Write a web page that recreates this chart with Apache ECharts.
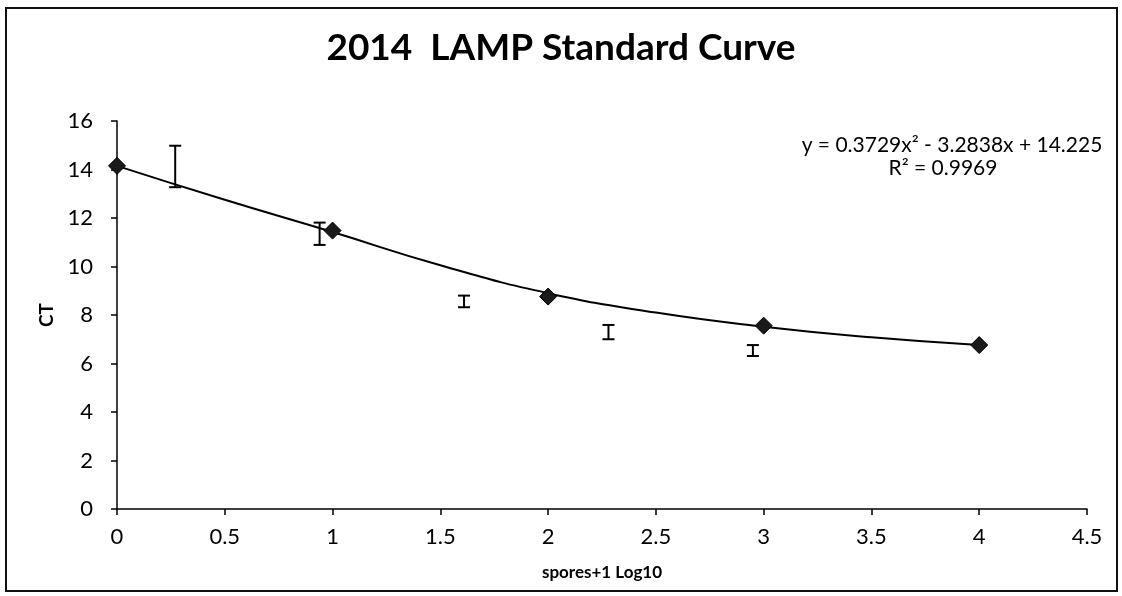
<!DOCTYPE html>
<html>
<head>
<meta charset="utf-8">
<script src="https://cdn.jsdelivr.net/npm/echarts@6/dist/echarts.min.js"></script>
<style>
html,body{margin:0;padding:0;background:#fff;}
#chart{width:1122px;height:596px;}
</style>
</head>
<body>
<div id="chart"></div>
<script>
// Data
const pointX = [0, 1, 2, 3, 4];
const pointCT = [14.15, 11.48, 8.76, 7.56, 6.76];
const errX = [0.27, 0.94, 1.61, 2.28, 2.95];
const errLow = [13.27, 10.89, 8.32, 7.00, 6.31];
const errHigh = [14.98, 11.81, 8.80, 7.59, 6.76];
const trendX = [0, 0.5, 1, 1.5, 2, 2.5, 3, 3.5, 4];
const trendCT = [14.15, 12.75, 11.42, 10.05, 8.9, 8.1, 7.52, 7.08, 6.76];
const xTicks = [0, 0.5, 1, 1.5, 2, 2.5, 3, 3.5, 4, 4.5];
const yTicks = [0, 2, 4, 6, 8, 10, 12, 14, 16];
const equationText = 'y = 0.3729x² - 3.2838x + 14.225';
const r2Text = 'R² = 0.9969';

const points = pointX.map((x, i) => [x, pointCT[i]]);
const trend = trendX.map((x, i) => [x, trendCT[i]]);
const errData = errX.map((x, i) => [x, errLow[i], errHigh[i]]);

const chart = echarts.init(document.getElementById('chart'));
const font = 'Lato, "Open Sans", sans-serif';

chart.setOption({
  animation: false,
  backgroundColor: '#fff',
  title: {
    text: '2014  LAMP Standard Curve',
    left: 'center',
    top: 25,
    textStyle: { fontFamily: font, fontWeight: 'bold', fontSize: 37, color: '#000' }
  },
  graphic: [
    { type: 'rect', shape: { x: 6, y: 8, width: 1111, height: 583 }, style: { fill: 'none', stroke: '#111', lineWidth: 2 }, silent: true },
    { type: 'text', x: 952, y: 145, style: { text: equationText, fontFamily: font, fontSize: 21, fill: '#000', align: 'center', verticalAlign: 'middle' } },
    { type: 'text', x: 943, y: 168, style: { text: r2Text, fontFamily: font, fontSize: 21, fill: '#000', align: 'center', verticalAlign: 'middle' } }
  ],
  grid: { left: 117, right: 35, top: 121, bottom: 87 },
  xAxis: {
    type: 'value',
    min: xTicks[0], max: xTicks[xTicks.length - 1], interval: 0.5,
    name: 'spores+1 Log10',
    nameLocation: 'middle',
    nameGap: 55,
    nameTextStyle: { fontFamily: font, fontWeight: 'bold', fontSize: 17, color: '#000' },
    axisLine: { lineStyle: { color: '#000', width: 1.5 } },
    axisTick: { show: true, inside: false, length: 6, lineStyle: { color: '#000', width: 1.5 } },
    axisLabel: { fontFamily: font, fontSize: 22, color: '#000', margin: 17 },
    splitLine: { show: false }
  },
  yAxis: {
    type: 'value',
    min: yTicks[0], max: yTicks[yTicks.length - 1], interval: 2,
    name: 'CT',
    nameLocation: 'middle',
    nameGap: 50,
    nameRotate: 90,
    nameTextStyle: { fontFamily: font, fontWeight: 'bold', fontSize: 19, color: '#000' },
    axisLine: { show: true, lineStyle: { color: '#000', width: 1.5 } },
    axisTick: { show: true, inside: false, length: 6, lineStyle: { color: '#000', width: 1.5 } },
    axisLabel: { fontFamily: font, fontSize: 22, color: '#000', margin: 24 },
    splitLine: { show: false }
  },
  series: [
    {
      type: 'line',
      data: trend,
      smooth: 0.5,
      showSymbol: false,
      symbol: 'none',
      lineStyle: { color: '#000', width: 2 },
      z: 2
    },
    {
      type: 'scatter',
      data: points,
      symbol: 'diamond',
      symbolSize: 17,
      itemStyle: { color: '#1a1a1a', borderColor: '#000', borderWidth: 1, opacity: 1 },
      z: 3
    },
    {
      type: 'custom',
      data: errData,
      renderItem: function (params, api) {
        const x = api.value(0);
        const lo = api.coord([x, api.value(1)]);
        const hi = api.coord([x, api.value(2)]);
        const hw = 6;
        const st = { stroke: '#000', lineWidth: 2 };
        return {
          type: 'group',
          children: [
            { type: 'line', shape: { x1: lo[0], y1: lo[1], x2: hi[0], y2: hi[1] }, style: st },
            { type: 'line', shape: { x1: lo[0] - hw, y1: lo[1], x2: lo[0] + hw, y2: lo[1] }, style: st },
            { type: 'line', shape: { x1: hi[0] - hw, y1: hi[1], x2: hi[0] + hw, y2: hi[1] }, style: st }
          ]
        };
      },
      z: 4
    }
  ]
});
</script>
</body>
</html>
